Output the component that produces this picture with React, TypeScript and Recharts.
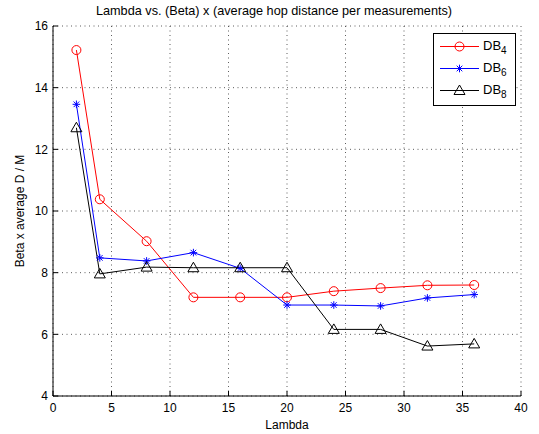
import React from 'react';
import { LineChart, Line, XAxis, YAxis, CartesianGrid } from 'recharts';

const lambda = [2, 4, 8, 12, 16, 20, 24, 28, 32, 36];
const db4 = [15.22, 10.38, 9.02, 7.2, 7.2, 7.2, 7.4, 7.5, 7.59, 7.6];
const db6 = [13.46, 8.48, 8.38, 8.65, 8.14, 6.95, 6.95, 6.92, 7.18, 7.29];
const db8 = [12.7, 7.96, 8.18, 8.16, 8.16, 8.16, 6.16, 6.16, 5.62, 5.69];
const xTicks = [0, 5, 10, 15, 20, 25, 30, 35, 40];
const yTicks = [4, 6, 8, 10, 12, 14, 16];

const data = lambda.map((l, i) => ({ lambda: l, db4: db4[i], db6: db6[i], db8: db8[i] }));

const FONT = '"Liberation Sans", Arial, Helvetica, sans-serif';
const tickStyle = { fill: '#000', fontSize: 12, fontFamily: FONT };

const CircleDot = (props: any) => {
  const { cx, cy, stroke } = props;
  return <circle key={props.index} cx={cx} cy={cy} r={4.5} fill="none" stroke={stroke} strokeWidth={1} />;
};

const StarDot = (props: any) => {
  const { cx, cy, stroke } = props;
  const s = 3.8;
  const d = 2.8;
  return (
    <g key={props.index} stroke={stroke} strokeWidth={1}>
      <line x1={cx - s} y1={cy} x2={cx + s} y2={cy} />
      <line x1={cx} y1={cy - s} x2={cx} y2={cy + s} />
      <line x1={cx - d} y1={cy - d} x2={cx + d} y2={cy + d} />
      <line x1={cx - d} y1={cy + d} x2={cx + d} y2={cy - d} />
    </g>
  );
};

const TriDot = (props: any) => {
  const { cx, cy, stroke } = props;
  const pts = `${cx},${cy - 5.5} ${cx - 5.5},${cy + 4} ${cx + 5.5},${cy + 4}`;
  return <polygon key={props.index} points={pts} fill="none" stroke={stroke} strokeWidth={1} />;
};

const series = [
  { key: 'db4', sub: '4', color: '#ff0000', marker: CircleDot },
  { key: 'db6', sub: '6', color: '#0000ff', marker: StarDot },
  { key: 'db8', sub: '8', color: '#000000', marker: TriDot },
];

const LegendBox = () => (
  <svg
    width={83}
    height={73}
    style={{ position: 'absolute', top: 33, left: 433, display: 'block' }}
  >
    <rect x={0.5} y={0.5} width={82} height={72} fill="#fff" stroke="#000" />
    {series.map((s, i) => {
      const y = 13.5 + i * 22;
      return (
        <g key={s.key}>
          <line x1={7} y1={y} x2={46} y2={y} stroke={s.color} strokeWidth={1} />
          {s.marker({ cx: 26.5, cy: y, stroke: s.color, index: i })}
          <text x={50} y={y + 3} fontSize={13} fontFamily={FONT} fill="#000">
            DB
            <tspan fontSize={10} dy={4}>{s.sub}</tspan>
          </text>
        </g>
      );
    })}
  </svg>
);

export default function App() {
  return (
    <div style={{ position: 'absolute', left: 0, top: 0, width: 539, height: 434, background: '#fff' }}>
      <div
        style={{
          position: 'absolute',
          top: 4,
          left: 0,
          width: 539,
          paddingLeft: 9,
          boxSizing: 'border-box',
          textAlign: 'center',
          fontFamily: FONT,
          fontSize: 12.7,
          color: '#000',
        }}
      >
        Lambda vs. (Beta) x (average hop distance per measurements)
      </div>
      <LineChart width={539} height={434} data={data} margin={{ top: 26, right: 18, bottom: 0, left: 0 }}>
        <CartesianGrid stroke="#333" strokeDasharray="1 3.5" strokeWidth={0.8} />
        <XAxis
          dataKey="lambda"
          type="number"
          domain={[0, 40]}
          ticks={xTicks}
          height={38}
          stroke="#000"
          tickSize={-5}
          tickMargin={12}
          tick={tickStyle}
          label={{ value: 'Lambda', position: 'insideBottom', offset: 5, fill: '#000', fontSize: 12, fontFamily: FONT }}
        />
        <XAxis
          xAxisId="top"
          orientation="top"
          dataKey="lambda"
          type="number"
          domain={[0, 40]}
          ticks={xTicks}
          height={0}
          stroke="#000"
          tickSize={-5}
          tick={false}
        />
        <YAxis
          type="number"
          domain={[4, 16]}
          ticks={yTicks}
          width={53}
          stroke="#000"
          tickSize={-5}
          tickMargin={10}
          tick={tickStyle}
          label={{
            value: 'Beta x average D / M',
            angle: -90,
            position: 'insideLeft',
            offset: 20,
            fill: '#000',
            fontSize: 12,
            fontFamily: FONT,
            style: { textAnchor: 'middle' },
          }}
        />
        <YAxis
          yAxisId="right"
          orientation="right"
          type="number"
          domain={[4, 16]}
          ticks={yTicks}
          width={0}
          stroke="#000"
          tickSize={-5}
          tick={false}
        />
        {series.map((s) => (
          <Line
            key={s.key}
            dataKey={s.key}
            name={'DB' + s.sub}
            stroke={s.color}
            strokeWidth={1}
            dot={s.marker}
            activeDot={false}
            isAnimationActive={false}
          />
        ))}
      </LineChart>
      <LegendBox />
    </div>
  );
}
